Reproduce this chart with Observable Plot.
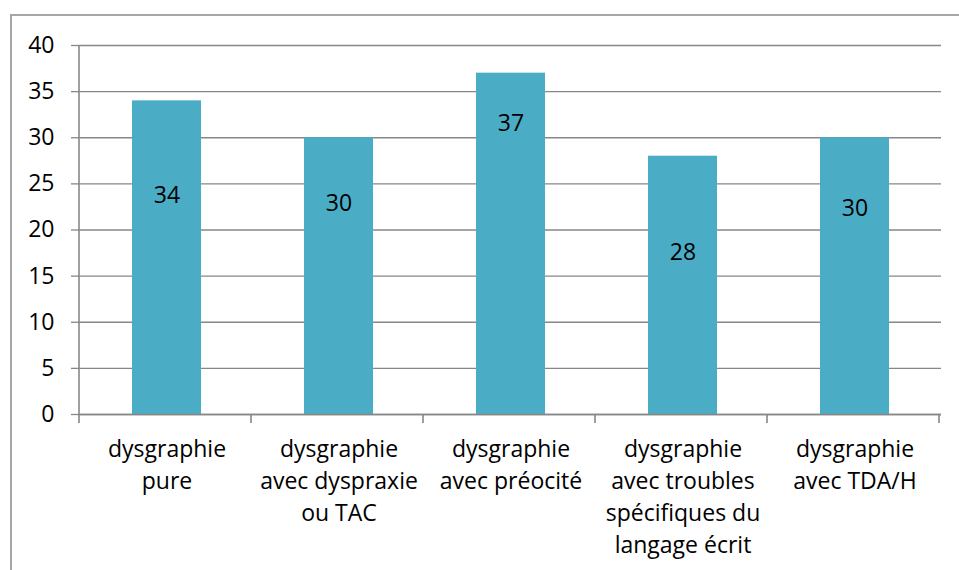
<!DOCTYPE html>
<html>
<head>
<meta charset="utf-8">
<script src="https://cdn.jsdelivr.net/npm/d3@7"></script>
<script src="https://cdn.jsdelivr.net/npm/@observablehq/plot@0.6"></script>
<style>
  html, body { margin: 0; padding: 0; background: #fff; overflow: hidden; }
  #wrap { position: relative; width: 959px; height: 570px; }
  #border { position: absolute; left: 10px; top: 14px; width: 960px; height: 570px;
            border: 2px solid #a6a6a6; box-sizing: border-box; pointer-events: none; }
</style>
</head>
<body>
<div id="wrap"><div id="border"></div><div id="chart"></div></div>
<script>
const categories = [
  "dysgraphie\npure",
  "dysgraphie\navec dyspraxie\nou TAC",
  "dysgraphie\navec préocité",
  "dysgraphie\navec troubles\nspécifiques du\nlangage écrit",
  "dysgraphie\navec TDA/H"
];
const values = [34, 30, 37, 28, 30];
// height (in data units) at which each value label sits in the original
const labelAt = [23.7, 22.9, 31.5, 17.5, 22.3];
const yTicks = [0, 5, 10, 15, 20, 25, 30, 35, 40];

const data = categories.map((c, i) => ({cat: c, value: values[i], labelY: labelAt[i]}));

const gridColor = "#878787";
const font = "'Open Sans', sans-serif";

const plot = Plot.plot({
  width: 959,
  height: 570,
  marginLeft: 79,
  marginRight: 18,
  marginTop: 45,
  marginBottom: 156,
  style: {fontFamily: font, fontSize: "23px", color: "#000", background: "transparent"},
  x: {domain: categories, paddingInner: 0.6, paddingOuter: 0.3},
  y: {domain: [0, 40]},
  marks: [
    Plot.gridY(yTicks, {stroke: gridColor, strokeOpacity: 1, strokeWidth: 1.3}),
    Plot.barY(data, {x: "cat", y: "value", fill: "#4BACC6"}),
    Plot.ruleY([0], {stroke: gridColor, strokeWidth: 1.6}),
    Plot.axisY({ticks: yTicks, tickSize: 8, tickPadding: 17, stroke: gridColor, strokeWidth: 1.3,
                fontSize: 23, fill: "#000", label: null}),
    Plot.axisX({tickSize: 0, tickPadding: 20, fontSize: 23, lineHeight: 1.39, fill: "#000", label: null}),
    Plot.text(data, {x: "cat", y: "labelY", text: d => String(d.value), fontSize: 23, fill: "#000"})
  ]
});

document.getElementById("chart").appendChild(plot);

// y axis line and category boundary ticks, derived from the plot's own scales
const xs = plot.scale("x");
const ys = plot.scale("y");
const n = xs.domain.length;
const r0 = xs.range[0], r1 = xs.range[1];
const step = xs.step ?? (r1 - r0) / (n - xs.paddingInner + 2 * xs.paddingOuter);
const y0 = ys.apply(0), yTop = ys.apply(40);
const svg = d3.select(plot);
const g = svg.append("g").attr("stroke", gridColor).attr("stroke-width", 1.6);
g.append("line").attr("x1", r0).attr("x2", r0).attr("y1", yTop).attr("y2", y0 + 9);
for (let i = 1; i <= n; i++) {
  const bx = r0 + i * step;
  g.append("line").attr("x1", bx).attr("x2", bx).attr("y1", y0).attr("y2", y0 + 9);
}
</script>
</body>
</html>
